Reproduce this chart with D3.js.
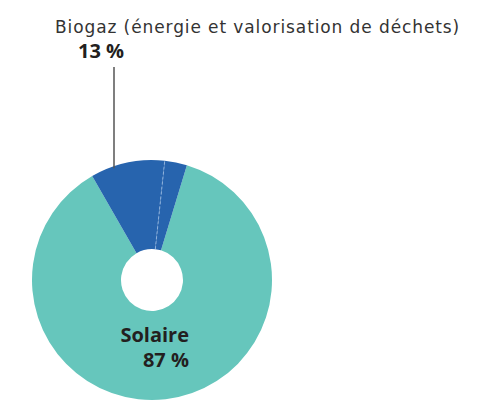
<!DOCTYPE html>
<html>
<head>
<meta charset="utf-8">
<script src="https://cdn.jsdelivr.net/npm/d3@7"></script>
<style>
  body { margin: 0; background: #fff; }
  text { font-family: "Open Sans", sans-serif; fill: #231f20; }
</style>
</head>
<body>
<svg></svg>
<script>
// slices, in drawing order (clockwise from the start angle)
var labels = ["Solaire", "Biogaz énergie", "Biogaz valorisation de déchets"];
var values = [87, 10, 3];
var colors = ["#66c6bc", "#2764ae", "#2764ae"];

var width = 496, height = 404;
var cx = 152, cy = 280, outer = 120, inner = 31;

var svg = d3.select("svg")
  .attr("width", width)
  .attr("height", height);

var g = svg.append("g")
  .attr("transform", "translate(" + cx + "," + cy + ")");

var startDeg = 16.9;
var pie = d3.pie()
  .sort(null)
  .startAngle(startDeg * Math.PI / 180)
  .endAngle(startDeg * Math.PI / 180 + 2 * Math.PI)
  .value(function(d) { return d; });

var arc = d3.arc()
  .outerRadius(outer)
  .innerRadius(inner);

var arcs = pie(values);

g.selectAll("path.slice")
  .data(arcs)
  .enter()
  .append("path")
  .attr("class", "slice")
  .attr("d", arc)
  .attr("fill", function(d, i) { return colors[i]; });

// dashed divider between the two biogaz parts
var a = arcs[2].startAngle;
g.append("line")
  .attr("x1", Math.sin(a) * inner)
  .attr("y1", -Math.cos(a) * inner)
  .attr("x2", Math.sin(a) * outer)
  .attr("y2", -Math.cos(a) * outer)
  .attr("stroke", "#8fb2dc")
  .attr("stroke-width", 1)
  .attr("stroke-dasharray", "3,2");

// leader line for biogaz
var lx = 114 - cx;
g.append("line")
  .attr("x1", lx).attr("y1", 67 - cy)
  .attr("x2", lx).attr("y2", -Math.sqrt(outer * outer - lx * lx) + 2)
  .attr("stroke", "#555")
  .attr("stroke-width", 1.5);

var biogaz = values[1] + values[2];

svg.append("text")
  .attr("x", 55).attr("y", 33)
  .attr("font-size", 17)
  .attr("letter-spacing", 0.9)
  .style("font-family", "'DejaVu Sans', sans-serif")
  .style("fill", "#333")
  .text("Biogaz (énergie et valorisation de déchets)");

svg.append("text")
  .attr("x", 78).attr("y", 58)
  .attr("font-size", 20)
  .attr("font-weight", "bold")
  .text(biogaz + " %");

svg.append("text")
  .attr("x", 189).attr("y", 342)
  .attr("text-anchor", "end")
  .attr("font-size", 20)
  .attr("font-weight", "bold")
  .text(labels[0]);

svg.append("text")
  .attr("x", 189).attr("y", 367)
  .attr("text-anchor", "end")
  .attr("font-size", 20)
  .attr("font-weight", "bold")
  .text(values[0] + " %");
</script>
</body>
</html>
